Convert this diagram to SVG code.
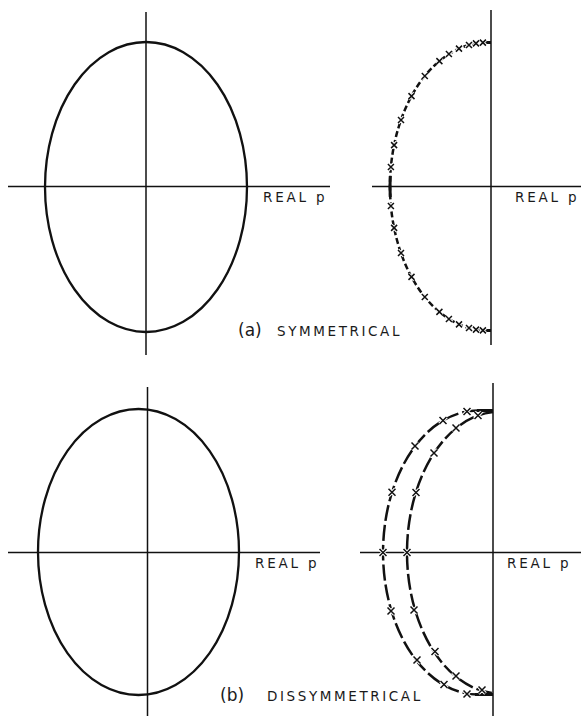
<svg xmlns="http://www.w3.org/2000/svg" xmlns:xlink="http://www.w3.org/1999/xlink" width="581" height="716" viewBox="0 0 581 716">
<style>
.axis{stroke:#111;stroke-width:1.5;fill:none}
.ell{stroke:#111;stroke-width:2.3;fill:none}
.locA{stroke:#111;stroke-width:2.5;fill:none;stroke-dasharray:6 3}
.locB{stroke:#111;stroke-width:2.5;fill:none;stroke-dasharray:16 4}
.solid{stroke:#111;stroke-width:3;fill:none}
.tick{stroke:#111;stroke-width:3;fill:none}
.halo{stroke:#fff;stroke-width:3.5;fill:none}
.xk{stroke:#111;stroke-width:1.5;fill:none}
.lbl{font-family:"DejaVu Sans",sans-serif;font-size:13.5px;fill:#1a1a1a;letter-spacing:2.8px}
.cap{font-family:"DejaVu Sans",sans-serif;font-size:13.5px;fill:#1a1a1a;letter-spacing:2.6px}
.par{font-family:"DejaVu Sans",sans-serif;font-size:17px;fill:#1a1a1a}
</style>
<defs>
<path id="xs" d="M-3,-3L3,3M-3,3L3,-3"/>
<path id="xl" d="M-3.5,-3.5L3.5,3.5M-3.5,3.5L3.5,-3.5"/>
</defs>
<rect width="581" height="716" fill="#fff"/>

<g id="plot-a-left">
<line class="axis" x1="146" y1="12" x2="146" y2="355"/>
<line class="axis" x1="8" y1="186.5" x2="330" y2="186.5"/>
<ellipse class="ell" cx="146" cy="187" rx="101" ry="145"/>
<text class="lbl" x="263" y="201.5">REAL p</text>
</g>

<g id="plot-a-right">
<line class="axis" x1="491" y1="10" x2="491" y2="345"/>
<line class="axis" x1="372" y1="186.5" x2="581" y2="186.5"/>
<path class="locA" d="M487,42.5 A97,144 0 0 0 487,330.5"/>
<path class="solid" d="M390.26,176 A97,144 0 0 0 390.26,197"/>
<line class="tick" x1="483" y1="42.5" x2="491" y2="42.5"/>
<line class="tick" x1="483" y1="330.5" x2="491" y2="330.5"/>
<g class="halo">
<use xlink:href="#xs" x="390.9" y="167"/><use xlink:href="#xs" x="394.1" y="145.1"/><use xlink:href="#xs" x="401" y="120"/><use xlink:href="#xs" x="411.5" y="96.1"/><use xlink:href="#xs" x="424.8" y="76"/><use xlink:href="#xs" x="439.4" y="61.1"/><use xlink:href="#xs" x="448.9" y="54"/><use xlink:href="#xs" x="459" y="48.6"/><use xlink:href="#xs" x="469" y="45"/><use xlink:href="#xs" x="476" y="43.4"/><use xlink:href="#xs" x="482.9" y="42.6"/>
<use xlink:href="#xs" x="390.9" y="206"/><use xlink:href="#xs" x="394.1" y="227.9"/><use xlink:href="#xs" x="401" y="253"/><use xlink:href="#xs" x="411.5" y="276.9"/><use xlink:href="#xs" x="424.8" y="297"/><use xlink:href="#xs" x="439.4" y="311.9"/><use xlink:href="#xs" x="448.9" y="319"/><use xlink:href="#xs" x="459" y="324.4"/><use xlink:href="#xs" x="469" y="328"/><use xlink:href="#xs" x="476" y="329.6"/><use xlink:href="#xs" x="482.9" y="330.4"/>
</g>
<g class="xk">
<use xlink:href="#xs" x="390.9" y="167"/><use xlink:href="#xs" x="394.1" y="145.1"/><use xlink:href="#xs" x="401" y="120"/><use xlink:href="#xs" x="411.5" y="96.1"/><use xlink:href="#xs" x="424.8" y="76"/><use xlink:href="#xs" x="439.4" y="61.1"/><use xlink:href="#xs" x="448.9" y="54"/><use xlink:href="#xs" x="459" y="48.6"/><use xlink:href="#xs" x="469" y="45"/><use xlink:href="#xs" x="476" y="43.4"/><use xlink:href="#xs" x="482.9" y="42.6"/>
<use xlink:href="#xs" x="390.9" y="206"/><use xlink:href="#xs" x="394.1" y="227.9"/><use xlink:href="#xs" x="401" y="253"/><use xlink:href="#xs" x="411.5" y="276.9"/><use xlink:href="#xs" x="424.8" y="297"/><use xlink:href="#xs" x="439.4" y="311.9"/><use xlink:href="#xs" x="448.9" y="319"/><use xlink:href="#xs" x="459" y="324.4"/><use xlink:href="#xs" x="469" y="328"/><use xlink:href="#xs" x="476" y="329.6"/><use xlink:href="#xs" x="482.9" y="330.4"/>
</g>
<text class="lbl" x="515" y="201.5">REAL p</text>
</g>

<g id="caption-a">
<text class="par" x="238" y="336">(a)</text>
<text class="cap" x="277" y="335.5">SYMMETRICAL</text>
</g>

<g id="plot-b-left">
<line class="axis" x1="147.5" y1="387" x2="147.5" y2="716"/>
<line class="axis" x1="8" y1="552.5" x2="320" y2="552.5"/>
<ellipse class="ell" cx="138.5" cy="552" rx="100.5" ry="143"/>
<text class="lbl" x="255" y="568">REAL p</text>
</g>

<g id="plot-b-right">
<line class="axis" x1="493" y1="383" x2="493" y2="716"/>
<line class="axis" x1="360" y1="552.5" x2="581" y2="552.5"/>
<path class="locB" d="M478,410.5 A95,142 0 0 0 478,694.5"/>
<path class="locB" d="M493,411.9 A93,141 0 0 0 493,693.1"/>
<line class="tick" x1="477" y1="410.5" x2="493" y2="410.5"/>
<line class="tick" x1="475" y1="694.5" x2="493" y2="694.5"/>
<g class="halo">
<use xlink:href="#xl" x="467" y="411.5"/><use xlink:href="#xl" x="443" y="420.5"/><use xlink:href="#xl" x="415" y="446"/><use xlink:href="#xl" x="392" y="492.2"/><use xlink:href="#xl" x="383" y="552.5"/><use xlink:href="#xl" x="391" y="611"/><use xlink:href="#xl" x="417" y="660"/><use xlink:href="#xl" x="444" y="684.5"/><use xlink:href="#xl" x="467" y="694"/>
<use xlink:href="#xl" x="478" y="415.5"/><use xlink:href="#xl" x="456" y="428"/><use xlink:href="#xl" x="434" y="453"/><use xlink:href="#xl" x="416" y="492.5"/><use xlink:href="#xl" x="407" y="552.5"/><use xlink:href="#xl" x="414" y="610"/><use xlink:href="#xl" x="435" y="651.5"/><use xlink:href="#xl" x="456" y="676"/><use xlink:href="#xl" x="482" y="690"/>
</g>
<g class="xk">
<use xlink:href="#xl" x="467" y="411.5"/><use xlink:href="#xl" x="443" y="420.5"/><use xlink:href="#xl" x="415" y="446"/><use xlink:href="#xl" x="392" y="492.2"/><use xlink:href="#xl" x="383" y="552.5"/><use xlink:href="#xl" x="391" y="611"/><use xlink:href="#xl" x="417" y="660"/><use xlink:href="#xl" x="444" y="684.5"/><use xlink:href="#xl" x="467" y="694"/>
<use xlink:href="#xl" x="478" y="415.5"/><use xlink:href="#xl" x="456" y="428"/><use xlink:href="#xl" x="434" y="453"/><use xlink:href="#xl" x="416" y="492.5"/><use xlink:href="#xl" x="407" y="552.5"/><use xlink:href="#xl" x="414" y="610"/><use xlink:href="#xl" x="435" y="651.5"/><use xlink:href="#xl" x="456" y="676"/><use xlink:href="#xl" x="482" y="690"/>
</g>
<text class="lbl" x="507" y="568">REAL p</text>
</g>

<g id="caption-b">
<text class="par" x="220" y="701">(b)</text>
<text class="cap" x="267" y="700.5">DISSYMMETRICAL</text>
</g>
</svg>
